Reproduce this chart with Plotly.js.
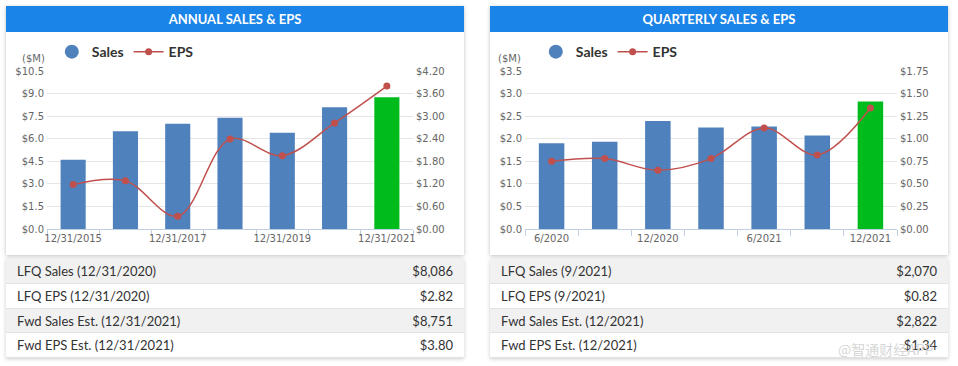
<!DOCTYPE html>
<html><head><meta charset="utf-8">
<script src="https://cdn.plot.ly/plotly-3.0.1.min.js"></script>
<style>
html,body{margin:0;padding:0;background:#fff;width:958px;height:366px;overflow:hidden;font-family:Lato,"Open Sans",sans-serif;}
.card{position:absolute;top:6px;height:249px;background:#fff;box-shadow:0 1px 4px rgba(0,0,0,0.25);}
.hdr{height:26px;line-height:26px;background:#1b84e8;color:#fff;font-weight:700;font-size:13px;text-align:center;}
.chart{position:absolute;top:26px;left:0;}
.unit{position:absolute;top:47px;font-family:"DejaVu Sans";font-size:10px;color:#666;}
.tbl{position:absolute;top:259px;box-shadow:0 1px 4px rgba(0,0,0,0.2);background:#fff;}
.row{height:24.75px;line-height:25px;font-size:13px;color:#333;padding:0 11px;display:flex;justify-content:space-between;border-bottom:1px solid #e2e2e2;box-sizing:border-box;}
.row.g{background:#f1f1f1;}
.wm{position:absolute;left:838px;top:339px;font-family:"Noto Sans CJK SC";font-size:14px;color:rgba(200,200,200,0.75);}
</style></head><body>
<div class="card" style="left:6px;width:458px;"><div class="hdr">ANNUAL SALES &amp; EPS</div><div id="c1" class="chart"></div><div class="unit" style="left:16px;">($M)</div></div>
<div class="card" style="left:490px;width:458px;"><div class="hdr">QUARTERLY SALES &amp; EPS</div><div id="c2" class="chart"></div><div class="unit" style="left:8px;">($M)</div></div>
<div class="tbl" id="t1" style="left:6px;width:458px;"></div>
<div class="tbl" id="t2" style="left:490px;width:458px;"></div>
<div class="wm">@智通财经APP</div>
<script>
// Annual data
const annualCats = ["12/31/2015","12/31/2016","12/31/2017","12/31/2018","12/31/2019","12/31/2020","12/31/2021"];
const annualTickText = ["12/31/2015","","12/31/2017","","12/31/2019","","12/31/2021"];
const annualSales = [4.6, 6.5, 7.0, 7.4, 6.4, 8.086, 8.751];
const annualEPS = [1.18, 1.28, 0.34, 2.39, 1.95, 2.82, 3.80];
// Quarterly data
const qCats = ["6/2020","9/2020","12/2020","3/2021","6/2021","9/2021","12/2021"];
const qTickText = ["6/2020","","12/2020","","6/2021","","12/2021"];
const qSales = [1.90, 1.93, 2.39, 2.25, 2.27, 2.070, 2.822];
const qEPS = [0.75, 0.78, 0.65, 0.78, 1.12, 0.82, 1.34];
// Tables
const annualRowLabels = ["LFQ Sales (12/31/2020)","LFQ EPS (12/31/2020)","Fwd Sales Est. (12/31/2021)","Fwd EPS Est. (12/31/2021)"];
const annualRowValues = ["$8,086","$2.82","$8,751","$3.80"];
const qRowLabels = ["LFQ Sales (9/2021)","LFQ EPS (9/2021)","Fwd Sales Est. (12/2021)","Fwd EPS Est. (12/2021)"];
const qRowValues = ["$2,070","$0.82","$2,822","$1.34"];

const BLUE = "#4f81bd", GREEN = "#00bb1c", RED = "#c0504d";
const tickFont = {family:"DejaVu Sans", size:10, color:"#666"};

function draw(id, cats, tickText, sales, eps, yMax, yDtick, yFmt, y2Max, y2Dtick, y2Fmt, ml, legX) {
  const colors = sales.map((v,i) => i === sales.length-1 ? GREEN : BLUE);
  const traces = [
    {type:"bar", x:cats, y:sales, marker:{color:colors}, showlegend:false, hoverinfo:"skip"},
    {type:"scatter", mode:"markers", x:[null], y:[null], name:"Sales", marker:{color:BLUE, size:14, symbol:"circle"}},
    {type:"scatter", mode:"lines+markers", x:cats, y:eps, yaxis:"y2", name:"EPS",
     line:{color:RED, width:1.5, shape:"spline", smoothing:1}, marker:{color:RED, size:7}}
  ];
  const layout = {
    width: 458, height: 223,
    margin:{l:ml, r:51, t:39, b:26},
    paper_bgcolor:"rgba(0,0,0,0)", plot_bgcolor:"rgba(0,0,0,0)",
    bargap:0.52,
    showlegend:true,
    legend:{orientation:"h", xref:"container", yref:"container", x:legX, xanchor:"left", y:0.91, yanchor:"middle",
      font:{family:"Lato", size:14, color:"#333", weight:700}, itemwidth:30, traceorder:"normal", tracegroupgap:0},
    xaxis:{type:"category", categoryorder:"array", categoryarray:cats, range:[-0.5, cats.length-0.5],
      tickmode:"array", tickvals:cats, ticktext:tickText, tickson:"boundaries", tickangle:0,
      ticks:"outside", ticklen:6, tickcolor:"#c0d0e0", showline:true, linecolor:"#c0d0e0", linewidth:1,
      showgrid:false, tickfont:tickFont, fixedrange:true, automargin:false},
    yaxis:{range:[0,yMax], dtick:yDtick, tick0:0, tickformat:yFmt, tickprefix:"$", showgrid:true, gridcolor:"#e6e6e6",
      zeroline:false, showline:false, tickfont:tickFont, ticklabelstandoff:2, fixedrange:true, automargin:false},
    yaxis2:{range:[0,y2Max], dtick:y2Dtick, tick0:0, tickformat:y2Fmt, tickprefix:"$", overlaying:"y", side:"right",
      showgrid:false, zeroline:false, showline:false, tickfont:tickFont, ticklabelstandoff:2, fixedrange:true, automargin:false}
  };
  Plotly.newPlot(id, traces, layout, {staticPlot:true, displayModeBar:false});
}
draw("c1", annualCats, annualTickText, annualSales, annualEPS, 10.5, 1.5, ".1f", 4.2, 0.6, ".2f", 41, 0.1);
draw("c2", qCats, qTickText, qSales, qEPS, 3.5, 0.5, ".1f", 1.75, 0.25, ".2f", 35, 0.1);

function table(id, labels, values) {
  const el = document.getElementById(id);
  labels.forEach((l,i) => {
    const r = document.createElement("div");
    r.className = "row" + (i % 2 === 0 ? " g" : "");
    r.innerHTML = "<span>" + l + "</span><span>" + values[i] + "</span>";
    el.appendChild(r);
  });
}
table("t1", annualRowLabels, annualRowValues);
table("t2", qRowLabels, qRowValues);
</script>
</body></html>
